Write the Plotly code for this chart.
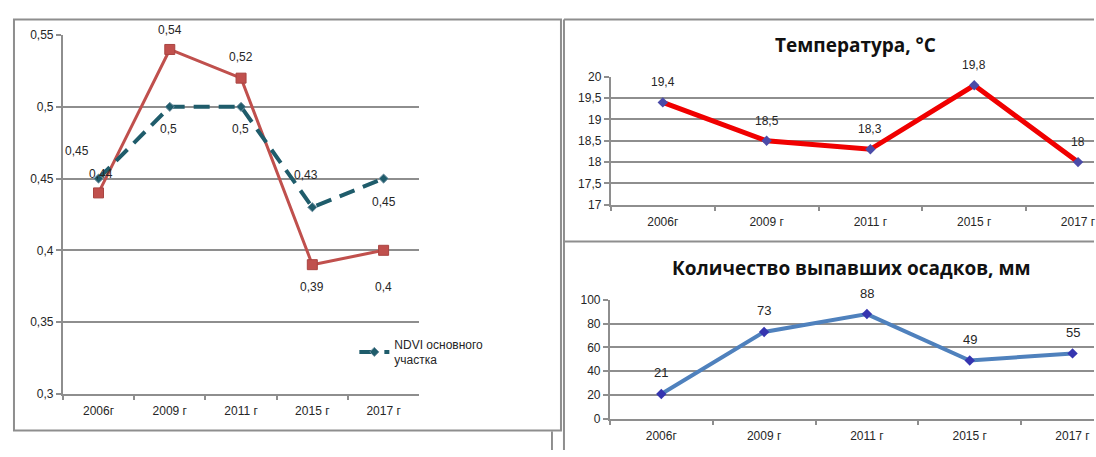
import plotly.graph_objects as go

W, H = 1096, 457

# ---- data ----
years = ["2006г", "2009 г", "2011 г", "2015 г", "2017 г"]
ndvi_main = [0.45, 0.50, 0.50, 0.43, 0.45]      # NDVI основного участка (dashed)
ndvi_second = [0.44, 0.54, 0.52, 0.39, 0.40]    # second NDVI series (red squares)
temperature = [19.4, 18.5, 18.3, 19.8, 18.0]
precipitation = [21, 73, 88, 49, 55]

# label offsets (px) - styling only
off_main = [(-22, 28), (-1, -22), (-1, -22), (-6, 32), (0, -23)]
off_second = [(2, 19), (0, 19), (0, 21), (0, -22), (0, -37)]

FONT = "Liberation Sans, Arial, sans-serif"
GRID = "#8e8e8e"
TXT = "#262626"


def px(x):
    return x / W


def py(y):
    return 1 - y / H


def fmt(v):
    return ("%g" % v).replace(".", ",")


fig = go.Figure()

# left chart
fig.add_trace(go.Scatter(
    x=years, y=ndvi_second, mode="lines+markers", name="NDVI 2",
    line=dict(color="#C0504D", width=3),
    marker=dict(symbol="square", size=10, color="#C0504D",
                line=dict(color="#A94441", width=1)),
    showlegend=False, xaxis="x", yaxis="y", cliponaxis=False))
fig.add_trace(go.Scatter(
    x=years, y=ndvi_main, mode="lines+markers",
    name="NDVI основного<br>участка",
    line=dict(color="#1F5C6B", width=4, dash="16px,9px"),
    marker=dict(symbol="diamond", size=7, color="#1F5C6B",
                line=dict(color="#6f8fa0", width=1)),
    showlegend=True, xaxis="x", yaxis="y", cliponaxis=False))

# top right: temperature
fig.add_trace(go.Scatter(
    x=years, y=temperature, mode="lines+markers", showlegend=False,
    line=dict(color="#F00000", width=5),
    marker=dict(symbol="diamond", size=8, color="#4B4BA8"),
    xaxis="x2", yaxis="y2", cliponaxis=False))

# bottom right: precipitation
fig.add_trace(go.Scatter(
    x=years, y=precipitation, mode="lines+markers", showlegend=False,
    line=dict(color="#4F81BD", width=4),
    marker=dict(symbol="diamond", size=8, color="#3535B0"),
    xaxis="x3", yaxis="y3", cliponaxis=False))

ann = []
for i, yr in enumerate(years):
    dx, dy = off_main[i]
    ann.append(dict(x=yr, y=ndvi_main[i], xref="x", yref="y", text=fmt(ndvi_main[i]),
                    showarrow=False, xshift=dx, yshift=dy,
                    font=dict(size=12, color=TXT, family=FONT)))
    dx, dy = off_second[i]
    ann.append(dict(x=yr, y=ndvi_second[i], xref="x", yref="y", text=fmt(ndvi_second[i]),
                    showarrow=False, xshift=dx, yshift=dy,
                    font=dict(size=12, color=TXT, family=FONT)))
    ann.append(dict(x=yr, y=temperature[i], xref="x2", yref="y2", text=fmt(temperature[i]),
                    showarrow=False, yshift=20,
                    font=dict(size=12, color=TXT, family=FONT)))
    ann.append(dict(x=yr, y=precipitation[i], xref="x3", yref="y3", text=fmt(precipitation[i]),
                    showarrow=False, yshift=21,
                    font=dict(size=13, color=TXT, family=FONT)))

ann.append(dict(x=px(857), y=py(39), xref="paper", yref="paper", xanchor="center", yanchor="middle",
                text="<b>Температура, °C</b>",
                showarrow=False, font=dict(size=19, color="#111", family="Open Sans, sans-serif")))
ann.append(dict(x=px(853), y=py(269), xref="paper", yref="paper", xanchor="center", yanchor="middle",
                text="<b>Количество выпавших осадков, мм</b>",
                showarrow=False, font=dict(size=19, color="#111", family="Open Sans, sans-serif")))

gray = dict(color=GRID, width=2)
shapes = [
    # left panel border
    dict(type="rect", xref="paper", yref="paper", x0=px(14), x1=px(562), y0=py(437), y1=py(13),
         line=gray),
    # right panel borders
    dict(type="line", xref="paper", yref="paper", x0=px(565), x1=px(565), y0=py(13), y1=0,
         line=gray),
    dict(type="line", xref="paper", yref="paper", x0=px(565), x1=1, y0=py(13), y1=py(13),
         line=gray),
    dict(type="line", xref="paper", yref="paper", x0=px(565), x1=1, y0=py(242), y1=py(242),
         line=gray),
    dict(type="line", xref="paper", yref="paper", x0=px(553), x1=px(553), y0=py(438), y1=0,
         line=dict(color="#222", width=1)),
]

xcommon = dict(type="category", showgrid=False, showline=True, linecolor=GRID, linewidth=2,
               ticks="outside", ticklen=4, tickcolor=GRID, tickwidth=2, tickson="boundaries",
               ticklabelstandoff=5,
               tickfont=dict(size=12, color=TXT, family=FONT), zeroline=False, fixedrange=True)
ycommon = dict(showgrid=True, gridcolor=GRID, gridwidth=2, showline=True, linecolor=GRID,
               linewidth=2, ticks="outside", ticklen=5, tickcolor=GRID, tickwidth=2,
               tickfont=dict(size=12, color=TXT, family=FONT), zeroline=False)

fig.update_layout(
    width=W, height=H, margin=dict(l=0, r=0, t=0, b=0),
    paper_bgcolor="white", plot_bgcolor="rgba(0,0,0,0)",
    separators=", ",
    xaxis=dict(xcommon, domain=[px(63), px(420)], range=[-0.5, 4.5], anchor="y"),
    yaxis=dict(ycommon, domain=[py(399), py(29)], range=[0.3, 0.55], dtick=0.05, anchor="x"),
    xaxis2=dict(xcommon, domain=[px(612), 1], range=[-0.5, (W - 612) / 104 - 0.5], anchor="y2"),
    yaxis2=dict(ycommon, domain=[py(204), py(72)], range=[17, 20], dtick=0.5, anchor="x2"),
    xaxis3=dict(xcommon, domain=[px(611), 1], range=[-0.5, (W - 611) / 103 - 0.5], anchor="y3"),
    yaxis3=dict(ycommon, domain=[py(425), py(302)], range=[0, 100], dtick=20, anchor="x3"),
    legend=dict(x=px(355), y=py(333), xanchor="left", yanchor="top", bgcolor="rgba(0,0,0,0)",
                font=dict(size=12, color=TXT, family=FONT)),
    annotations=ann, shapes=shapes,
)

fig.write_html("out.html")
